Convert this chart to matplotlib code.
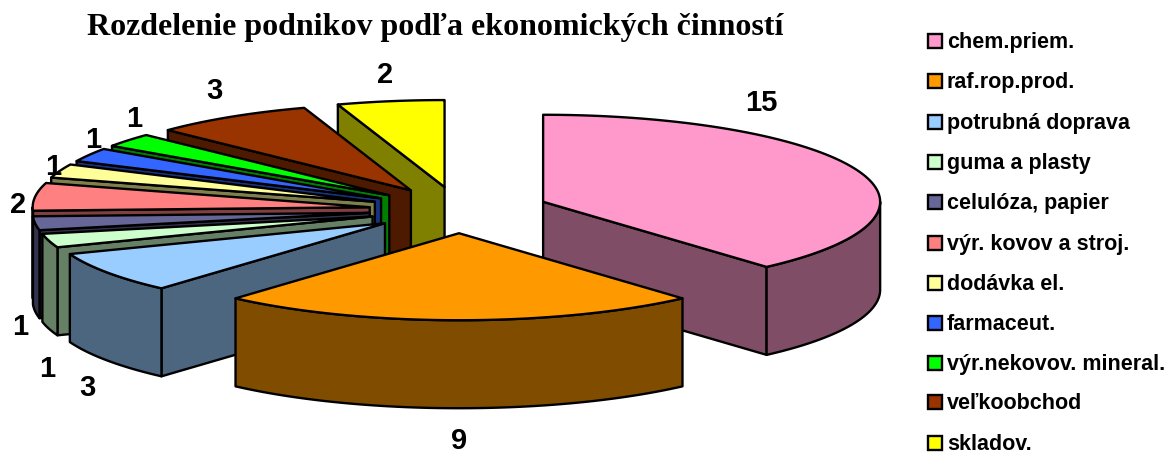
import numpy as np
import matplotlib.pyplot as plt
from matplotlib.patches import Polygon, Rectangle

title = "Rozdelenie podnikov podľa ekonomických činností"
categories = [
    "chem.priem.",
    "raf.rop.prod.",
    "potrubná doprava",
    "guma a plasty",
    "celulóza, papier",
    "výr. kovov a stroj.",
    "dodávka el.",
    "farmaceut.",
    "výr.nekovov. mineral.",
    "veľkoobchod",
    "skladov.",
]
values = [15, 9, 3, 1, 1, 2, 1, 1, 1, 3, 2]
top_colors = [
    "#FF99CC", "#FF9900", "#99CCFF", "#CCFFCC", "#666699", "#FF8080",
    "#FFFF99", "#3366FF", "#00FF00", "#993300", "#FFFF00",
]
side_colors = [
    "#804D66", "#804D00", "#4D6680", "#668066", "#33334D", "#804040",
    "#80804D", "#1A3380", "#008000", "#4D1A00", "#808000",
]
# where the numbers go, in pixels of the picture
label_pos = [
    (761, 103), (459, 441), (87, 388), (47, 369), (20, 327), (18, 205),
    (53, 167), (93, 140), (134, 119), (214, 91), (385, 75),
]

# pie geometry in pixels
cx, cy = 459, 210
rx, ry = 337, 87
depth = 88
explode = 0.267
legend_y = [42, 82, 123, 163, 203, 244, 284, 324, 364, 403, 444]

fig = plt.figure(figsize=(11.72, 4.54), dpi=100)
ax = fig.add_axes([0, 0, 1, 1])
ax.set_xlim(0, 1172)
ax.set_ylim(454, 0)
ax.axis("off")


def rim(x0, y0, angles):
    return np.column_stack((x0 + rx * np.sin(angles), y0 - ry * np.cos(angles)))


def add_poly(points, color, zorder):
    ax.add_patch(Polygon(points, closed=True, facecolor=color, edgecolor="black",
                         linewidth=1.7, joinstyle="round", zorder=zorder))


ends = np.cumsum(values) / np.sum(values) * 2 * np.pi
starts = np.concatenate(([0], ends[:-1]))
mids = (starts + ends) / 2
centers_x = cx + explode * rx * np.sin(mids)
centers_y = cy - explode * ry * np.cos(mids)

# paint from the back to the front
z = 1
for i in np.argsort(centers_y):
    x0, y0 = centers_x[i], centers_y[i]
    a0, a1 = starts[i], ends[i]
    shift = np.array([0, depth])
    apex = np.array([[x0, y0]])

    # radial faces that look towards the viewer
    if np.sin(a0) < 0:
        p = rim(x0, y0, np.array([a0]))
        add_poly(np.vstack((apex, p, p + shift, apex + shift)), side_colors[i], z)
        z += 1
    if np.sin(a1) > 1e-6:
        p = rim(x0, y0, np.array([a1]))
        add_poly(np.vstack((apex, p, p + shift, apex + shift)), side_colors[i], z)
        z += 1

    # outer wall, front half only
    w0, w1 = max(a0, np.pi / 2), min(a1, 3 * np.pi / 2)
    if w1 > w0:
        arc = rim(x0, y0, np.linspace(w0, w1, 60))
        add_poly(np.vstack((arc, (arc + shift)[::-1])), side_colors[i], z)
        z += 1

    # top
    arc = rim(x0, y0, np.linspace(a0, a1, 120))
    add_poly(np.vstack((apex, arc)), top_colors[i], z)
    z += 1

for v, (lx, ly) in zip(values, label_pos):
    ax.text(lx, ly, str(v), family="Liberation Sans", fontweight="bold", fontsize=21,
            ha="center", va="center", color="black", zorder=100)

ax.text(435, 28, title, family="Liberation Serif", fontweight="bold", fontsize=23,
        ha="center", va="center", color="black")

for name, color, ly in zip(categories, top_colors, legend_y):
    ax.add_patch(Rectangle((928, ly - 8), 14, 14, facecolor=color, edgecolor="black", linewidth=1.7))
    ax.text(947, ly + 6, name, family="Liberation Sans", fontweight="bold", fontsize=15.5,
            ha="left", va="baseline", color="black")

fig.savefig("out.png", dpi=100)
